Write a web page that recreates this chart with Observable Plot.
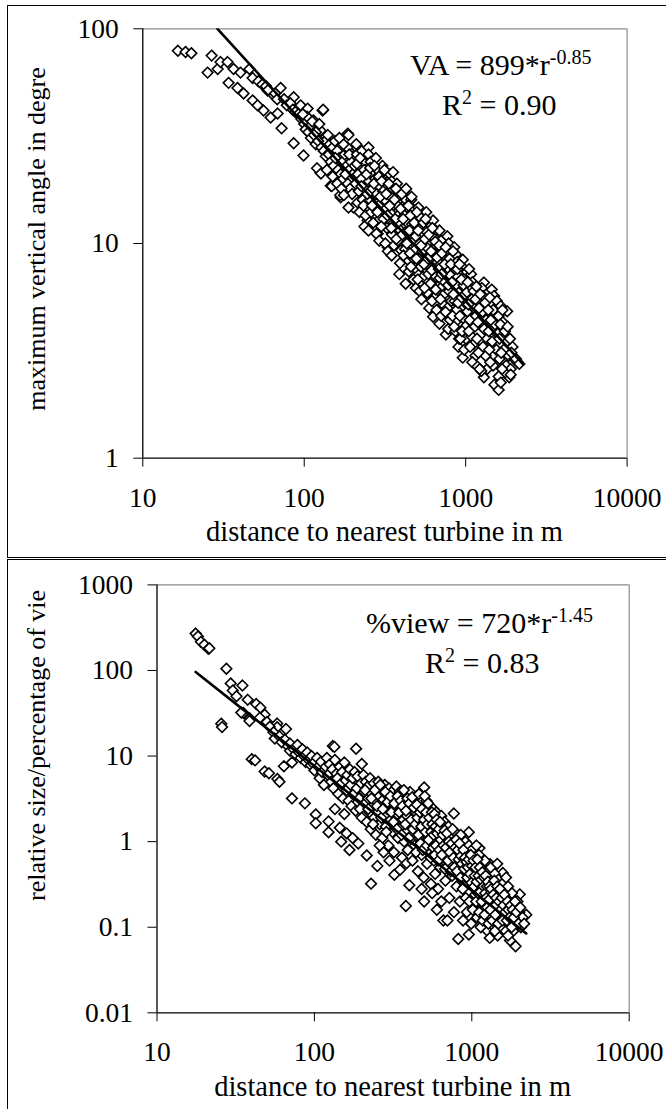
<!DOCTYPE html>
<html><head><meta charset="utf-8">
<script src="https://cdn.jsdelivr.net/npm/d3@7"></script>
<script src="https://cdn.jsdelivr.net/npm/@observablehq/plot@0.6"></script>
<style>
html,body{margin:0;padding:0;background:#fff;}
#page{position:relative;width:666px;height:1109px;overflow:hidden;background:#fff;}
.frame{position:absolute;border:1.5px solid #000;box-sizing:border-box;}
.chart{position:absolute;left:0;}
</style></head><body>
<div id="page">
  <div class="frame" style="left:7px;top:5px;width:690px;height:553px"></div>
  <div class="frame" style="left:7px;top:559px;width:690px;height:620px"></div>
  <div id="top" class="chart" style="top:0px"></div>
  <div id="bottom" class="chart" style="top:560px"></div>
</div>
<script>
// ---------- data ----------
const xTicks = [10, 100, 1000, 10000];
const vaTicks = [1, 10, 100];
const viewTicks = [0.01, 0.1, 1, 10, 100, 1000];
const xDomain = [10, 10000];
const vaDomain = [1, 100];
const viewDomain = [0.01, 1000];

// maximum vertical angle (deg) vs distance (m)
const vaPoints = [
[16.5,79],[18.4,78],[20,77],[26.7,75],[25.2,62.5],[29.1,65],[30.3,70],[33.5,70],[36.5,65],[40.3,62.5],[45.8,65],[47.9,59],[34,56],[38.6,53],[42.1,50],[47.9,46.4],[51.4,44],[56,41.6],[61.9,38.6],[68.4,40.3],[72.4,34.4],[59.3,51.6],[64.6,49],[71.4,53],[86,48],[95,44],[105,42.5],[130,41.6],[114,37.4],[126,33.6],[186,32.5],[86,29.3],[99,25.7],[126,21.4],[146,18.6],[168,16.4],[202,14.7],[247,12.8],[285,11.1],[329,9.6],
[52,57],[55,55],[58,54],[60,52],[66,50],[68,47],[75,47],[78,44],[82,45],[85,42],[88,41],[92,40],[96,38],[100,36],[104,39],[108,35],[112,37],[118,33],[120,31],[124,36],[131,42],[135,30],[140,32],[144,29],[150,28],[155,30],[160,27],[165,25],[172,24],[178,26],[183,23],[190,22],[195,24],[200,21],[188,32],[120,22.4],[127,21.2],[148,18.5],[167,16.8],[188,14.7],[226,24.7],[188,27.2],
[98,40],[102,34],[106,33],[110,31],[115,32],[118,29],[122,30],[128,28],[132,27],[136,25.5],[142,26],[146,24],[152,23],[156,25],[162,22],[168,21],[174,20],[180,21],[186,19],[192,18],[198,17],[160,19],[170,18],[176,16.8],[150,20.5],[138,22],[185,28],[175,29],[165,31],[190,26],
[210,29],[212,26],[205,23],[215,21],[208,19],[218,17.5],[214,15.5],[220,14],
[228,27],[232,24],[235,22],[226,20],[238,18],[230,16],[240,13.5],[236,12],
[250,28],[250,26],[258,24],[262,21],[252,19.5],[265,18],[255,16],[260,14],[268,12.5],[250,11.5],
[278,25],[285,22],[275,20],[290,18.5],[282,17],[288,15],[295,13],[280,11.1],[292,10.3],
[305,23],[312,21],[318,19],[308,17.5],[315,16],[320,14.5],[310,13],[325,11.8],[318,10],[330,9.2],
[340,21],[348,19.5],[352,18],[343,16.5],[355,15],[345,13.8],[358,12.5],[350,11],[360,9.8],[348,8.8],
[375,19],[382,17.5],[388,16],[378,15],[392,13.8],[385,12.5],[395,11.5],[380,10.3],[398,9.3],[388,7.2],[392,8.1],
[415,17.5],[425,16],[430,14.8],[418,13.5],[435,12.5],[425,11.3],[440,10.2],[422,9.4],[438,8.4],[425,6.5],[445,7.4],
[460,16],[470,14.5],[478,13.5],[465,12.3],[482,11.2],[472,10.2],[488,9.4],[468,8.6],[485,7.7],[475,6.8],[492,6.2],
[510,14.7],[525,13.2],[515,12],[535,11],[520,10],[540,9.2],[512,8.5],[528,7.8],[545,7],[518,6],[532,5.5],
[570,14],[590,12.5],[575,11.3],[595,10.3],[582,9.5],[600,8.8],[572,8],[588,7.2],[605,6.5],[578,5.9],[595,5],
[628,12.8],[650,11.5],[636,10.6],[660,9.7],[645,8.9],[670,8.2],[632,7.6],[655,7],[675,6.3],[640,5.6],[628,4.56],[660,4.9],
[688,11.5],[705,10.3],[695,9.5],[720,8.8],[700,8],[730,7.4],[690,6.9],[715,6.3],[735,5.8],[688,4.23],[705,4.6],[725,5.2],
[754,3.77],[770,10.8],[785,10],[765,9.2],[795,8.5],[775,7.7],[805,7.1],[760,6.5],[790,6],[815,5.4],[770,5],[800,4.4],[780,4],
[850,9.6],[870,8.9],[885,8.2],[860,7.6],[895,7],[875,6.4],[905,5.9],[855,5.4],[880,4.9],[902,3.3],[890,4.4],[865,3.9],[910,3.6],
[959,2.94],[960,8.4],[985,7.6],[1000,7],[970,6.4],[1010,5.9],[990,5.3],[1020,4.8],[965,4.5],[995,4.1],[1019,7.38],[1005,3.6],[980,3.2],
[1080,7.2],[1100,6.6],[1120,6],[1090,5.5],[1130,5],[1110,4.5],[1140,4.1],[1085,3.7],[1120,3.4],[1150,3],[1100,2.8],[1184,2.67],
[1297,6.58],[1260,6.2],[1280,5.7],[1320,5.3],[1270,4.8],[1340,4.4],[1300,4],[1360,3.6],[1280,3.3],[1330,3],[1297,2.38],[1360,2.6],[1250,2.55],
[1450,6.1],[1500,5.7],[1560,5.4],[1480,4.9],[1600,4.6],[1520,4.2],[1580,3.8],[1460,3.5],[1550,3.2],[1620,2.9],[1507,2.2],[1601,2.08],[1480,2.7],[1649,5.11],[1808,4.83],
[1700,4.3],[1750,3.9],[1800,3.5],[1720,3.2],[1850,3],[1780,2.7],[1862,2.38],[1900,2.6],[2099,2.8],[2000,2.9],[1950,3.3],[1750,2.5],
[212,23.5],[222,25],[226,18.5],[233,15],[243,21],[246,17],[256,22.5],[263,15],[270,19],[272,23],[284,14],[290,20.5],[296,16.5],[300,12],[302,19.5],[314,22],[322,17],[328,13.5],[334,19],[338,15],[346,11.8],[355,21.5],[362,16],[366,13],[370,18],[372,10.5],[395,14.5],[402,17],[405,11],[410,13],[412,8.8],[428,18],[432,10],[442,15],[448,11.5],[452,9],[455,13.5],[458,7.8],[462,16.5],[480,12.5],[490,10.8],[495,8.5],[498,14],[505,6.8],[508,11.5],[530,9.8],[548,12.5],[552,8],[556,6.2],[560,10.5],[565,13],[585,8.5],[592,11],[610,9.2],[615,7.5],[618,5.4],[622,11.8],[648,10.2],[652,6.1],[665,8.6],[682,7.6],[685,9.8],[698,5.5],[710,7.2],[712,9],[740,8],[745,6.6],[750,4.8],[752,9.6],[780,6.4],[810,8],[822,6.6],[828,4.6],[835,9.2],[840,5.8],[848,4.1],[888,7.6],[898,5.3],[915,8],[920,4.6],[928,3.6],[940,6.8],[945,5.6],[950,3.9],[1030,6.6],[1040,5.2],[1045,3.9],[1050,7.6],[1060,4.4],[1065,3.3],[1150,5.5],[1160,4.6],[1165,6.3],[1175,3.6],[1190,4.3],[1200,3.1],[1210,5],[1220,2.6],[1230,5.8],[1380,4.9],[1390,3.9],[1400,3.2],[1410,5.6],[1420,2.8],[1430,4.4],[1620,3.6],[1640,4.2],[1660,3.1],[1680,2.6],[1690,4.9],[1820,4.1],[1880,3.6],[1920,3.1],[2050,2.9],[2150,2.75],[1600,2.4],[1650,2.25],[1900,2.45]
];

// relative size / percentage of view vs distance (m)
const viewPoints = [
[17.6,270],[18.2,250],[19,216],[20,200],[21.2,179],[21.5,182],
[27.6,105],[29.4,70.6],[30.3,58.4],[34.9,66.7],[35.4,31.9],[38.8,27.6],[37.7,45.4],[42.7,40.5],[45.4,36.8],[48.3,30.4],[25.6,23.9],[25.9,21.8],[40,9.2],[42,8.9],[48.3,6.6],[51.4,6.3],[58.2,5.4],[60,5.0],[58,24],[58,21.7],[66,20.7],[64,7.6],[72,8.4],[72,3.2],[87,2.8],[102,2.08],[102,1.64],[123,1.72],[123,1.29],[131,13.1],[134,12.8],[184,12.2],[200,8.1],[498,4.3],[769,2.13],[957,1.29],[229,0.323],[381,0.177],[498,0.2],[820,0.073],[957,0.082],[1897,0.06],[2218,0.14],[2018,0.242],[1574,0.43],[1306,0.545],[1119,0.84],[148,1.0],[167,0.8],[215,0.69],[251,0.52],[322,0.41],[401,0.31],
[32,50],[34.3,32.2],[38.7,25.7],[45,28],[50,25],
[52,22],[55,19],[56,16],[60,17],[62,14.5],[65,15.5],[68,13],[70,14],[70,11.5],[74,12],[76,10.5],[78,13.5],[80,11],[82,9.5],[84,12],[86,10],[88,8.5],[90,11],[92,9],[95,7.8],[96,10],[98,8.2],[100,6.8],[104,9.5],[106,7.5],[108,5.5],[110,8.6],[112,6.5],[115,4.6],[118,7.5],
[120,9.5],[122,6],[125,8],[128,5],[130,7],[132,4.2],[135,9],[138,6.2],[140,5.5],[142,3.6],[145,7.5],[148,4.8],[150,6.5],[152,3.2],[155,8.4],[158,5.2],[160,4],[162,6],[165,3],[168,7],[170,4.6],[172,2.6],[175,5.5],[178,3.6],[180,6.5],[183,2.3],[186,4.2],[188,5.8],[192,3.2],[195,2.4],[198,4.8],[200,1.9],[145,1.45],[160,1.25],[175,1.1],[190,0.95],[135,2.4],[155,2.1],
[205,6],[208,3.8],[210,2.8],[212,5],[215,1.7],[218,4.4],[220,3.2],[224,2.2],[226,5.5],[228,1.4],[232,3.6],[235,2.6],[238,4.8],[240,1.9],[244,3],[246,1.2],[248,4.2],[252,2.2],[255,5],[258,3.4],[260,1.6],[264,2.7],[268,4],[270,1.1],[274,3.1],[278,2],[280,4.6],[284,1.5],[288,3.5],[290,2.4],[295,0.9],[298,4.2],[302,2.8],[306,1.8],[310,3.8],[313,1.3],[316,2.4],[320,0.75],[324,3.2],[328,1.6],[332,4.4],[336,2.1],[340,1.1],[344,2.8],[348,3.8],[352,1.45],[356,2.4],[360,0.65],[364,3.2],[368,1.8],[372,1],[376,2.6],[380,3.6],[384,1.3],[388,2],[392,0.8],[396,3],[400,1.6],[385,0.56],[350,0.47],[300,0.6],[275,0.75],[260,0.9],
[405,3.8],[410,2.4],[415,1.2],[420,0.6],[425,3],[430,1.8],[435,0.9],[440,2.2],[445,3.4],[450,1.4],[455,0.45],[460,2.6],[465,1.1],[470,1.7],[475,3.2],[480,0.7],[485,2],[490,1.3],[495,0.38],[500,2.6],[505,1],[510,1.6],[515,3],[520,0.55],[525,2.1],[530,1.2],[535,0.8],[540,2.6],[545,1.5],[550,0.32],[555,2],[560,0.95],[565,1.3],[570,2.4],[575,0.6],[580,1.7],[585,0.42],[590,1.1],[595,2.2],[600,0.75],[605,1.5],[610,0.28],[615,1.9],[620,0.9],[625,1.2],[630,0.5],[640,2],[650,1.4],[660,0.12],[665,0.65],[670,1.7],[680,0.35],[690,1.1],[700,0.8],[710,1.5],[720,0.22],[730,0.55],[740,1.2],[750,0.4],[760,0.9],[770,0.15],[780,1.3],[790,0.6],[800,0.3],[640,0.2],[700,0.12],[560,0.25],[480,0.28],[600,0.16],
[810,1.1],[820,0.5],[830,0.75],[840,0.2],[850,1.2],[860,0.4],[870,0.9],[880,0.12],[890,0.6],[900,0.3],[910,1],[920,0.45],[930,0.15],[940,0.7],[950,0.25],[960,0.9],[970,0.35],[980,0.55],[990,0.11],[1000,0.8],[1010,0.3],[1020,0.45],[1030,0.18],[1040,0.65],[1050,0.24],[1060,0.38],[1070,0.9],[1080,0.13],[1090,0.5],[1100,0.3],[1110,0.7],[1120,0.2],[1130,0.42],[1140,0.1],[1150,0.55],[1160,0.28],[1170,0.35],[1180,0.16],[1190,0.48],[1200,0.22],[1210,0.6],[1220,0.12],[1230,0.32],[1240,0.19],[1250,0.45],[1260,0.09],[1270,0.26],[1280,0.38],[1290,0.14],[1300,0.075],
[1320,0.5],[1340,0.22],[1360,0.33],[1380,0.12],[1400,0.42],[1420,0.18],[1440,0.28],[1460,0.08],[1480,0.36],[1500,0.15],[1520,0.24],[1540,0.1],[1560,0.32],[1580,0.2],[1600,0.13],[1620,0.27],[1640,0.09],[1660,0.22],[1680,0.17],[1700,0.3],[1720,0.11],[1750,0.2],[1780,0.14],[1800,0.25],[1830,0.09],[1860,0.18],[1900,0.12],[1950,0.2],[2000,0.15],[2050,0.1],[2100,0.13],[1750,0.07],[1650,0.38],[1450,0.55],
[210,4],[220,2.4],[230,3.2],[236,1.6],[242,4],[250,2.6],[262,4.6],[266,1.9],[272,2.4],[282,3.8],[286,1.3],[292,2.9],[304,3.4],[308,2.2],[318,1.7],[322,2.8],[334,1.4],[338,3.4],[346,2.2],[354,3],[358,1.2],[362,2.6],[370,4],[378,1.6],[382,2.3],[390,3.2],[398,1.1],[402,2.8],[412,1.8],[418,3.3],[422,1.4],[428,2.5],[438,1.6],[442,0.75],[448,2.7],[452,1.9],[458,1.2],[462,3.6],[468,2.2],[472,0.95],[478,1.5],[482,2.4],[488,0.8],[498,1.8],[502,3.4],[508,1.3],[512,2.2],[518,0.9],[522,1.6],[528,2.8],[532,1.05],[538,1.9],[548,0.65],[552,1.3],[558,2.2],[562,1.6],[568,0.85],[572,1.2],[578,2.1],[582,0.7],[588,1.5],[592,0.9],[598,1.8],[602,1.25],[612,0.6],[618,1.4],[622,0.8],[628,1.7],[635,1.05],[645,0.7],[655,1.2],[662,0.9],[672,1.35],[676,0.48],[685,0.85],[695,1.25],[705,0.6],[715,1],[725,0.75],[735,0.45],[745,0.95],[755,1.4],[765,0.65],[775,0.5],[785,0.85],[795,1.05],[805,0.45],[815,0.8],[825,0.62],[835,0.95],[845,0.38],[855,0.68],[865,0.55],[875,0.28],[885,0.8],[895,0.48],[905,0.65],[915,0.22],[925,0.58],[935,0.38],[945,0.5],[955,0.62],[965,0.2],[975,0.42],[985,0.7],[995,0.33],[1005,0.52],[1015,0.16],[1025,0.6],[1035,0.3],[1045,0.4],[1055,0.5],[1065,0.2],[1075,0.34],[1085,0.62],[1095,0.25],[1105,0.4],[1115,0.15],[1125,0.5],[1135,0.26],[1145,0.36],[1155,0.2],[1165,0.44],[1175,0.12],[1185,0.3],[1195,0.38],[1205,0.14],[1215,0.25],[1225,0.4],[1235,0.22],[1245,0.3],[1255,0.17],[1265,0.34],[1275,0.11],[1285,0.21],[1295,0.3],[1310,0.16],[1330,0.28],[1350,0.12],[1370,0.24],[1390,0.35],[1410,0.14],[1430,0.22],[1450,0.3],[1470,0.11],[1490,0.2],[1510,0.28],[1530,0.16],[1550,0.22],[1570,0.12],[1590,0.18],[1610,0.24],[1630,0.15],[1670,0.12],[1690,0.2],[1710,0.16],[1740,0.13],[1770,0.18],[1790,0.1],[1820,0.16],[1850,0.13],[1880,0.2],[1920,0.15],[1980,0.11],[2030,0.17],[2150,0.11],[1700,0.08],[1400,0.09]
];

// fitted power-law lines as drawn (start / end points)
const vaTrend = [[29, 100], [2250, 2.76]];
const viewTrend = [[17.6, 96], [2218, 0.0846]];

// text
const vaYLabel = "maximum vertical angle in degre";
const viewYLabel = "relative size/percentage of vie";
const xLabel = "distance to nearest turbine in m";
const vaEq = {main: "VA = 899*r", exp: "-0.85", r2: "0.90"};
const viewEq = {main: "%view = 720*r", exp: "-1.45", r2: "0.83"};

// ---------- drawing ----------
const FONT = "Liberation Serif, Times New Roman, serif";

function panel({points, trend, yDomain, yTicks, height, mt, mb, ml, mr}) {
  const svg = Plot.plot({
    width: 666, height,
    marginTop: mt, marginBottom: mb, marginLeft: ml, marginRight: mr,
    style: {fontFamily: FONT, fontSize: "27.5px", color: "#000", background: "transparent", overflow: "visible"},
    x: {type: "log", domain: xDomain},
    y: {type: "log", domain: yDomain},
    marks: [
      Plot.ruleY([yDomain[1]], {stroke: "#8a8a8a", strokeWidth: 1.2}),
      Plot.ruleX([xDomain[1]], {stroke: "#8a8a8a", strokeWidth: 1.2}),
      Plot.dot(points, {x: d => d[0], y: d => d[1], symbol: "diamond2", r: 4.8,
                        stroke: "#000", fill: "#fff", strokeWidth: 1.6}),
      Plot.line(trend, {x: d => d[0], y: d => d[1], stroke: "#000", strokeWidth: 2.6, clip: true}),
      Plot.ruleX([xDomain[0]], {stroke: "#000", strokeWidth: 1.3}),
      Plot.ruleY([yDomain[0]], {stroke: "#000", strokeWidth: 1.3}),
      Plot.axisX({ticks: xTicks, tickSize: 9, tickPadding: 20, tickFormat: d => String(d), label: null,
                  fontFamily: FONT, fontSize: 27.5}),
      Plot.axisY({ticks: yTicks, tickSize: 9, tickPadding: 15, tickFormat: d => String(d), label: null,
                  fontFamily: FONT, fontSize: 27.5})
    ]
  });
  d3.select(svg).attr("font-family", FONT).attr("font-size", 27.5);
  return svg;
}

function addTexts(svg, t) {
  const s = d3.select(svg);
  const g = s.append("g").attr("font-family", FONT).attr("fill", "#000").attr("text-anchor", "start");
  g.append("text").attr("transform", `translate(${t.yl[0]},${t.yl[1]}) rotate(-90)`)
    .attr("text-anchor", t.yl[2]).attr("font-size", t.yl[3]).text(t.ylabel);
  g.append("text").attr("x", t.xl[0]).attr("y", t.xl[1]).attr("text-anchor", "middle")
    .attr("font-size", 28.5).text(xLabel);
  const e1 = g.append("text").attr("x", t.e1[0]).attr("y", t.e1[1]).attr("font-size", 30);
  e1.append("tspan").text(t.eq.main);
  e1.append("tspan").attr("dy", -11.5).attr("font-size", 20).text(t.eq.exp);
  const e2 = g.append("text").attr("x", t.e2[0]).attr("y", t.e2[1]).attr("font-size", 30);
  e2.append("tspan").text("R");
  e2.append("tspan").attr("dy", -11.5).attr("font-size", 20).text("2");
  e2.append("tspan").attr("dy", 11.5).text(" = " + t.eq.r2);
}

const topSvg = panel({points: vaPoints, trend: vaTrend, yDomain: vaDomain, yTicks: vaTicks,
  height: 557, mt: 28.3, mb: 99.3, ml: 142.3, mr: 39.4});
addTexts(topSvg, {ylabel: vaYLabel, yl: [45, 239, "middle", 26], xl: [384.5, 541], e1: [410, 75], e2: [442, 115], eq: vaEq});
document.getElementById("top").appendChild(topSvg);

const botSvg = panel({points: viewPoints, trend: viewTrend, yDomain: viewDomain, yTicks: viewTicks,
  height: 549, mt: 24.4, mb: 96.7, ml: 156.5, mr: 37.3});
addTexts(botSvg, {ylabel: viewYLabel, yl: [45, 341, "start", 26], xl: [392.6, 536], e1: [366, 73], e2: [425, 113], eq: viewEq});
document.getElementById("bottom").appendChild(botSvg);
</script>
</body></html>
